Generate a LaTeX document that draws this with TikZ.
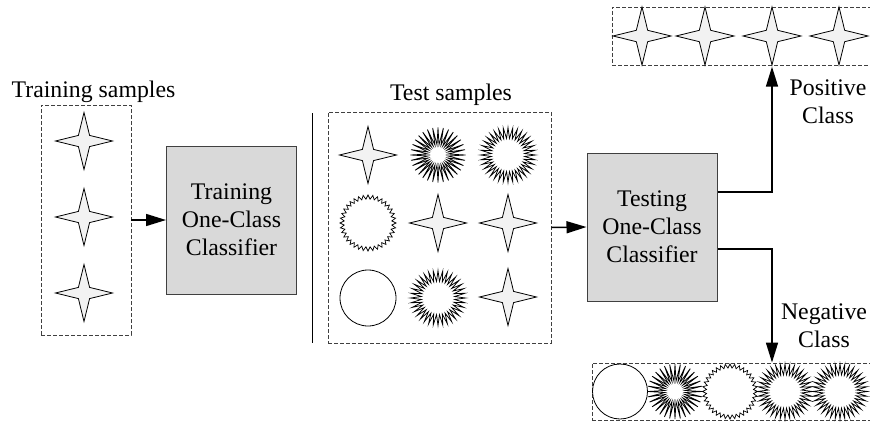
\documentclass[tikz,border=0pt]{standalone}
\usepackage{fontspec}
\setmainfont{Liberation Serif}
\usetikzlibrary{shapes.geometric,arrows.meta,calc}
\definecolor{clffill}{HTML}{D9D9D9}
\definecolor{clfedge}{HTML}{404040}
\definecolor{boxgray}{HTML}{404040}
\definecolor{starfill}{HTML}{F2F2F2}
\newcommand{\labfont}{\fontsize{23.8}{28}\selectfont}
\tikzset{
  dbox/.style={draw=boxgray, dash pattern=on 4pt off 2pt, line width=0.9pt, inner sep=0},
  clf/.style={draw=clfedge, fill=clffill, line width=1pt, minimum width=130pt,
              minimum height=148pt, align=center, font=\labfont, inner sep=0},
  sparkle/.style={star, star points=4, star point ratio=3.6, minimum size=57pt,
                  inner sep=0, draw, fill=starfill, line width=0.8pt},
  burst/.style={star, star points=#1, star point ratio=\burstratio, minimum size=55pt,
                inner sep=0, draw, fill=white, line width=0.7pt},
  ring/.style={circle, minimum size=56pt, inner sep=0, draw, line width=0.8pt},
  arr/.style={-{Triangle[length=20pt,width=12pt]}, line width=1.5pt},
  lbl/.style={font=\labfont, align=center, inner sep=0},
  spokes/.style={star, star points=32, star point ratio=2.7, minimum size=55pt,
                 inner sep=0, draw, fill=white, line width=0.75pt},
  rays/.style={star, star points=36, star point ratio=1.65, minimum size=55pt,
               inner sep=0, draw, fill=white, line width=0.75pt},
  zigzag/.style={star, star points=36, star point ratio=1.17, minimum size=56pt,
                 inner sep=0, draw, fill=white, line width=0.7pt}
}
\begin{document}
\begin{tikzpicture}[x=1pt,y=-1pt]
\useasboundingbox (0,0) rectangle (870,423);

% training set
\node[lbl, anchor=base] (trainlbl) at (93.5,97) {Training samples};
\node[dbox, minimum width=90pt, minimum height=230pt] (trainbox) at (86,220) {};
\node[sparkle] (tr1) at (84,141) {};
\node[sparkle] (tr2) at (84,217) {};
\node[sparkle] (tr3) at (84,293) {};

% training classifier
\node[clf] (trainclf) at (231.5,220) {Training\\One-Class\\Classifier};
\draw[arr] (trainbox.east) -- (trainclf.west);

% separator
\draw[line width=1.5pt] (312.5,113) -- (312.5,343);

% test set
\node[lbl, anchor=base] (testlbl) at (451,100) {Test samples};
\node[dbox, minimum width=223pt, minimum height=231pt] (testbox) at (439.5,227.5) {};
\node[sparkle] (t11) at (368,155) {};
\node[spokes]  (t12) at (438,155) {};
\node[rays]    (t13) at (508,155) {};
\node[zigzag]  (t21) at (368,223) {};
\node[sparkle] (t22) at (438,223) {};
\node[sparkle] (t23) at (508,223) {};
\node[ring]    (t31) at (368,298) {};
\node[rays]    (t32) at (438,298) {};
\node[sparkle] (t33) at (508,297) {};

% testing classifier
\node[clf] (testclf) at (652,227) {Testing\\One-Class\\Classifier};
\draw[arr] (testbox.east) -- (testclf.west);

% positive output
\node[dbox, minimum width=260pt, minimum height=58pt] (posbox) at (742,36) {};
\node[sparkle, minimum size=58pt] (p1) at (642,36) {};
\node[sparkle, minimum size=58pt] (p2) at (705,36) {};
\node[sparkle, minimum size=58pt] (p3) at (772,36) {};
\node[sparkle, minimum size=58pt] (p4) at (839,36) {};
\node[lbl] (poslbl) at (828,102) {Positive\\Class};
\draw[arr] ([yshift=35pt]testclf.east) -| (p3.south);

% negative output
\node[dbox, minimum width=280pt, minimum height=57pt] (negbox) at (732,391.5) {};
\node[ring, minimum size=55pt] (n1) at (620,391.5) {};
\node[spokes] (n2) at (675,391.5) {};
\node[zigzag, minimum size=55pt] (n3) at (730,391.5) {};
\node[rays]   (n4) at (785,391.5) {};
\node[rays]   (n5) at (840,391.5) {};
\node[lbl] (neglbl) at (824,326) {Negative\\Class};
\draw[arr] ([yshift=-22pt]testclf.east) -| (negbox.north -| p3.south);
\end{tikzpicture}
\end{document}
